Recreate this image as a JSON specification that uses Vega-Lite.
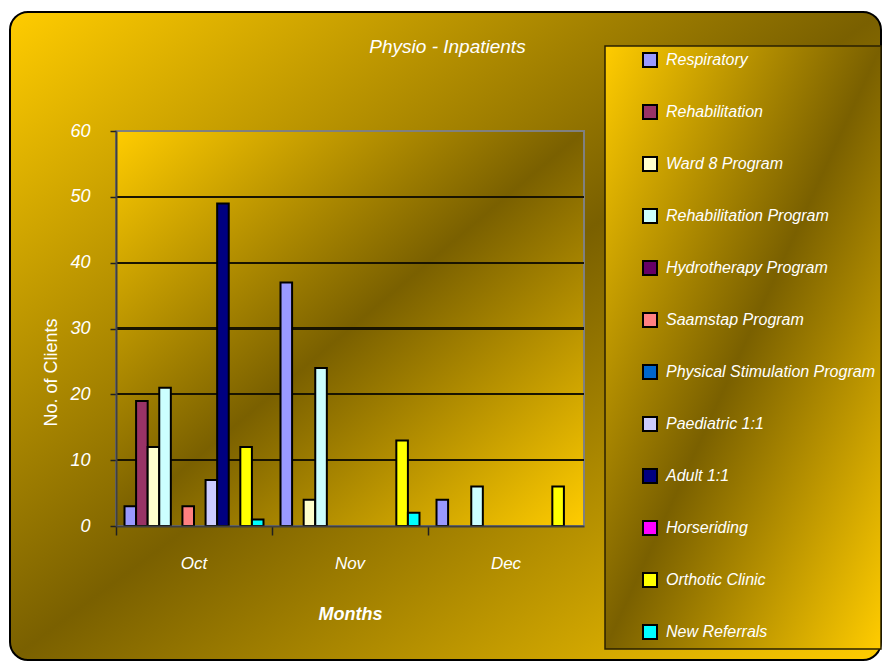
{
  "$schema": "https://vega.github.io/schema/vega-lite/v6.json",
  "width": 871,
  "height": 648,
  "autosize": {"type": "none"},
  "padding": {"left": 10, "top": 12, "right": 1, "bottom": 1},
  "background": "white",
  "title": {
    "text": "Physio - Inpatients",
    "font": "Liberation Sans",
    "fontSize": 19,
    "fontStyle": "italic",
    "fontWeight": "normal",
    "color": "white",
    "anchor": "middle",
    "frame": "group",
    "offset": 0,
    "baseline": "alphabetic",
    "dy": 60,
    "dx": 2
  },
  "config": {
    "view": {
      "fill": {"gradient": "linear", "x1": 0, "y1": 0, "x2": 1, "y2": 1,
        "stops": [{"offset": 0, "color": "#FFCC00"}, {"offset": 0.5, "color": "#7A6000"}, {"offset": 1, "color": "#FFCC00"}]},
      "stroke": "#000000",
      "strokeWidth": 2,
      "cornerRadius": 18
    },
    "legend": {"strokeWidth": 1.5}
  },
  "data": {
    "values": [
      {"month": "Oct", "series": "Respiratory", "clients": 3},
      {"month": "Oct", "series": "Rehabilitation", "clients": 19},
      {"month": "Oct", "series": "Ward 8 Program", "clients": 12},
      {"month": "Oct", "series": "Rehabilitation Program", "clients": 21},
      {"month": "Oct", "series": "Saamstap Program", "clients": 3},
      {"month": "Oct", "series": "Paediatric 1:1", "clients": 7},
      {"month": "Oct", "series": "Adult 1:1", "clients": 49},
      {"month": "Oct", "series": "Orthotic Clinic", "clients": 12},
      {"month": "Oct", "series": "New Referrals", "clients": 1},
      {"month": "Nov", "series": "Respiratory", "clients": 37},
      {"month": "Nov", "series": "Ward 8 Program", "clients": 4},
      {"month": "Nov", "series": "Rehabilitation Program", "clients": 24},
      {"month": "Nov", "series": "Orthotic Clinic", "clients": 13},
      {"month": "Nov", "series": "New Referrals", "clients": 2},
      {"month": "Dec", "series": "Respiratory", "clients": 4},
      {"month": "Dec", "series": "Rehabilitation Program", "clients": 6},
      {"month": "Dec", "series": "Orthotic Clinic", "clients": 6}
    ]
  },
  "layer": [
    {
      "mark": {"type": "bar", "width": {"band": 3}, "stroke": "#808080", "strokeWidth": 2,
        "color": {"gradient": "linear", "x1": 0, "y1": 0, "x2": 1, "y2": 1,
          "stops": [{"offset": 0, "color": "#FFCC00"}, {"offset": 0.5, "color": "#7A6000"}, {"offset": 1, "color": "#FFCC00"}]}},
      "encoding": {
        "x": {"datum": "Nov", "type": "nominal"},
        "y": {"datum": 0, "type": "quantitative"},
        "y2": {"datum": 60}
      }
    },
    {
      "mark": {"type": "bar", "width": {"band": 3}, "filled": false, "color": "#1A1400", "strokeWidth": 1.4},
      "encoding": {"x": {"datum": "Nov", "type": "nominal"}, "y": {"datum": 10, "type": "quantitative"}, "y2": {"datum": 10}}
    },
    {
      "mark": {"type": "bar", "width": {"band": 3}, "filled": false, "color": "#1A1400", "strokeWidth": 1.4},
      "encoding": {"x": {"datum": "Nov", "type": "nominal"}, "y": {"datum": 20, "type": "quantitative"}, "y2": {"datum": 20}}
    },
    {
      "mark": {"type": "bar", "width": {"band": 3}, "filled": false, "color": "#1A1400", "strokeWidth": 1.4},
      "encoding": {"x": {"datum": "Nov", "type": "nominal"}, "y": {"datum": 30, "type": "quantitative"}, "y2": {"datum": 30}}
    },
    {
      "mark": {"type": "bar", "width": {"band": 3}, "filled": false, "color": "#1A1400", "strokeWidth": 1.4},
      "encoding": {"x": {"datum": "Nov", "type": "nominal"}, "y": {"datum": 40, "type": "quantitative"}, "y2": {"datum": 40}}
    },
    {
      "mark": {"type": "bar", "width": {"band": 3}, "filled": false, "color": "#1A1400", "strokeWidth": 1.4},
      "encoding": {"x": {"datum": "Nov", "type": "nominal"}, "y": {"datum": 50, "type": "quantitative"}, "y2": {"datum": 50}}
    },
    {
      "mark": {"type": "bar", "stroke": "#000000", "strokeWidth": 2},
      "encoding": {
        "x": {
          "field": "month", "type": "nominal",
          "scale": {"domain": ["Oct", "Nov", "Dec"], "range": [106, 574], "paddingInner": 0, "paddingOuter": 0},
          "axis": {
            "orient": "bottom", "offset": -134, "bandPosition": 0, "zindex": 1,
            "domainColor": "#404040", "domainWidth": 2,
            "tickColor": "#202020", "tickSize": 9, "tickWidth": 1.5,
            "labelAngle": 0, "labelAlign": "center", "labelFont": "Liberation Sans", "labelFontStyle": "italic",
            "labelFontSize": 17, "labelColor": "white", "labelPadding": 28, "labelBaseline": "middle",
            "grid": false,
            "title": "Months", "titleFont": "Liberation Sans", "titleFontSize": 18,
            "titleFontStyle": "italic", "titleFontWeight": "bold", "titleColor": "white",
            "titleY": 93, "titleBaseline": "alphabetic"
          }
        },
        "xOffset": {
          "field": "series", "type": "nominal",
          "scale": {
            "domain": ["Respiratory", "Rehabilitation", "Ward 8 Program", "Rehabilitation Program", "Hydrotherapy Program", "Saamstap Program", "Physical Stimulation Program", "Paediatric 1:1", "Adult 1:1", "Horseriding", "Orthotic Clinic", "New Referrals"],
            "paddingInner": 0, "paddingOuter": 0.735
          }
        },
        "y": {
          "field": "clients", "type": "quantitative",
          "scale": {"domain": [0, 60], "range": [514, 119], "nice": false, "zero": true},
          "axis": {
            "orient": "left", "offset": -106, "values": [0, 10, 20, 30, 40, 50, 60], "zindex": 1,
            "domainColor": "#404040", "domainWidth": 2,
            "tickColor": "#202020", "tickSize": 6, "tickWidth": 1.5,
            "labelFont": "Liberation Sans", "labelFontStyle": "italic", "labelFontSize": 18,
            "labelColor": "white", "labelPadding": 20,
            "grid": false,
            "title": "No. of Clients", "titleFont": "Liberation Sans", "titleFontSize": 18,
            "titleFontWeight": "normal", "titleColor": "white", "titleAngle": -90,
            "titleX": -65, "titleY": 360, "titleAlign": "center", "titleBaseline": "middle"
          }
        },
        "color": {
          "field": "series", "type": "nominal",
          "scale": {
            "domain": ["Respiratory", "Rehabilitation", "Ward 8 Program", "Rehabilitation Program", "Hydrotherapy Program", "Saamstap Program", "Physical Stimulation Program", "Paediatric 1:1", "Adult 1:1", "Horseriding", "Orthotic Clinic", "New Referrals"],
            "range": ["#9999FF", "#993366", "#FFFFCC", "#CCFFFF", "#660066", "#FF8080", "#0066CC", "#CCCCFF", "#000080", "#FF00FF", "#FFFF00", "#00FFFF"]
          },
          "legend": {
            "title": null, "orient": "none", "legendX": 595, "legendY": 34, "direction": "vertical",
            "padding": 6, "symbolOffset": 31, "symbolType": "square", "symbolSize": 196,
            "symbolStrokeColor": "#000000", "symbolStrokeWidth": 2,
            "labelFont": "Liberation Sans", "labelFontStyle": "italic", "labelFontSize": 16,
            "labelColor": "white", "labelOffset": 8, "labelLimit": 400, "rowPadding": 30,
            "strokeColor": "#2A2000",
            "fillColor": "#A58200",
            "encode": {
              "legend": {
                "update": {
                  "fill": {"value": {"gradient": "linear", "x1": 0, "y1": 0, "x2": 1, "y2": 1,
                    "stops": [{"offset": 0, "color": "#FFCC00"}, {"offset": 0.5, "color": "#7A6000"}, {"offset": 1, "color": "#FFCC00"}]}}
                }
              }
            }
          }
        }
      }
    }
  ]
}
